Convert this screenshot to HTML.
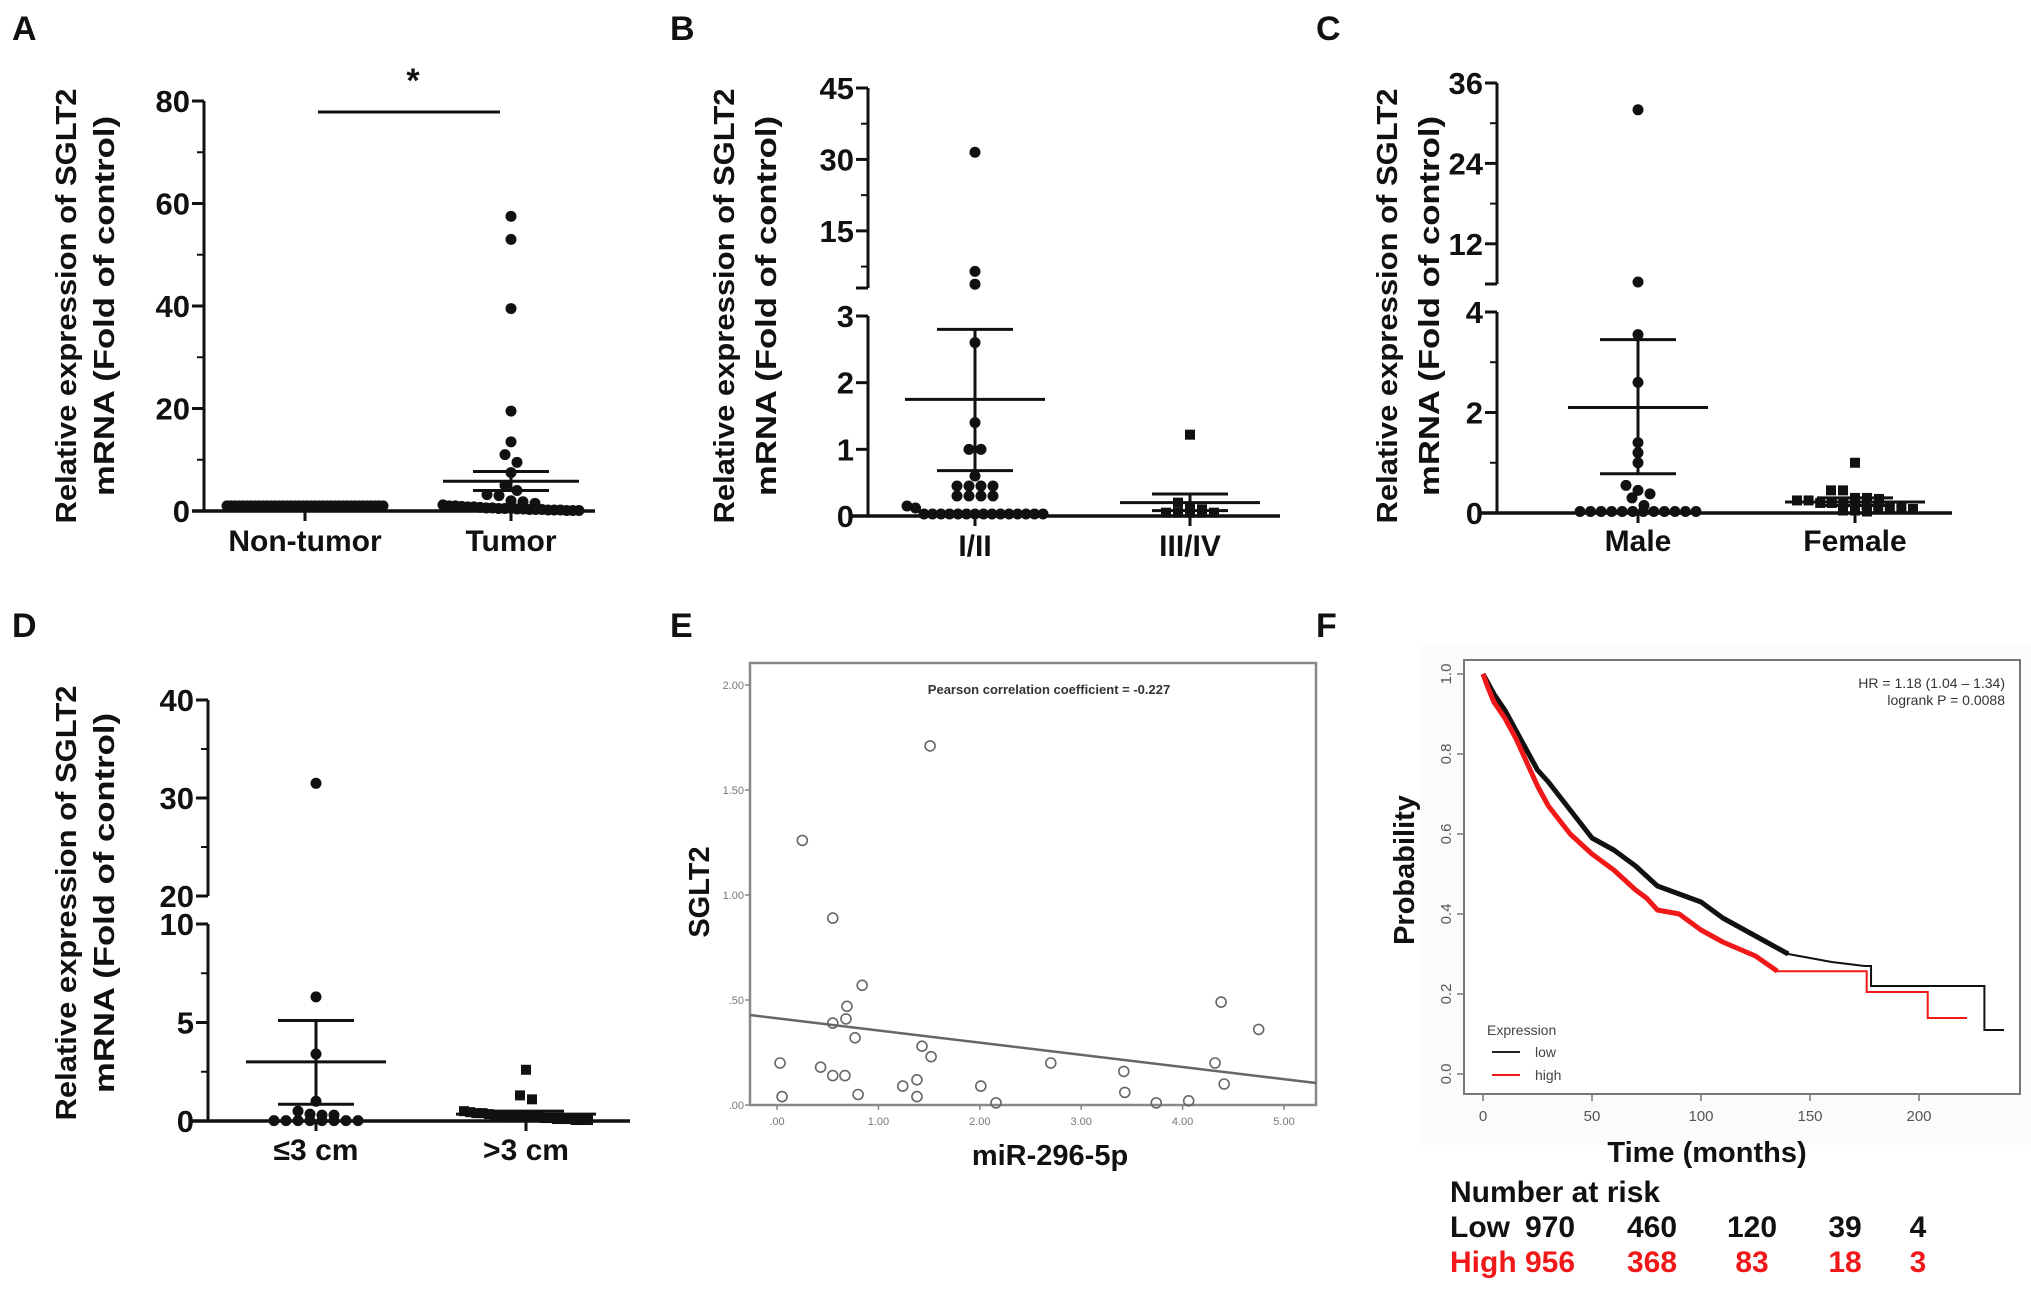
<!DOCTYPE html>
<html><head><meta charset="utf-8">
<style>
html,body{margin:0;padding:0;background:#fff;}
svg{display:block;font-family:"Liberation Sans",Arial,sans-serif;}
</style></head>
<body>
<svg id="fig" width="2031" height="1291" viewBox="0 0 2031 1291" xmlns="http://www.w3.org/2000/svg">
<rect x="0" y="0" width="2031" height="1291" fill="#fff"/>
<g font-weight="bold" font-size="34" fill="#111">
<text x="12" y="40">A</text>
<text x="670" y="40">B</text>
<text x="1316" y="40">C</text>
<text x="12" y="637">D</text>
<text x="670" y="637">E</text>
<text x="1316" y="637">F</text>
</g>
<g id="layer"></g>
</svg>
<script>
// ---------- Panel A data ----------
const aCategories = ["Non-tumor", "Tumor"];
const aNonTumor = [1,1,1,1,1,1,1,1,1,1,1,1,1,1,1,1,1,1,1,1,1,1,1,1,1,1,1,1,1,1,1,1,1,1,1,1,1,1,1,1];
const aTumor = [57.5,53,39.5,19.5,13.5,11,9.5,7.5,5,4,3.2,3,2,1.8,1.5,1.2,1,1,0.9,0.8,0.8,0.7,0.6,0.6,0.5,0.5,0.5,0.4,0.4,0.3,0.3,0.3,0.2,0.2,0.2,0.1,0.1,0.1];
const aStats = [[1,1,1],[5.8,7.7,4.0]];
const aTicks = [0,20,40,60,80];
// ---------- Panel B data ----------
const bCategories = ["I/II", "III/IV"];
const bEarly = [31.5,6.5,3.8,2.6,1.4,1.0,1.0,0.6,0.45,0.45,0.45,0.45,0.3,0.3,0.3,0.3,0.15,0.12,0.03,0.03,0.03,0.03,0.03,0.03,0.03,0.03,0.03,0.03,0.03,0.03,0.03,0.03,0.03];
const bLate = [1.22,0.2,0.12,0.1,0.05,0.05,0.05,0.05,0.05];
const bStats = [[1.75,2.8,0.68],[0.2,0.33,0.08]];
const bTicksUpper = [15,30,45];
const bTicksLower = [0,1,2,3];
// ---------- Panel C data ----------
const cCategories = ["Male", "Female"];
const cMale = [32,6.3,3.55,2.6,1.4,1.2,1.0,0.55,0.45,0.38,0.3,0.15,0.03,0.03,0.03,0.03,0.03,0.03,0.03,0.03,0.03,0.03,0.03,0.03];
const cFemale = [1.0,0.45,0.45,0.3,0.3,0.28,0.25,0.25,0.2,0.2,0.2,0.15,0.15,0.12,0.1,0.1,0.08,0.05,0.05,0.03];
const cStats = [[2.1,3.45,0.78],[0.22,0.3,0.15]];
const cTicksUpper = [12,24,36];
const cTicksLower = [0,2,4];
// ---------- Panel D data ----------
const dCategories = ["\u22643 cm", ">3 cm"];
const dSmall = [31.5,6.3,3.4,1.0,0.5,0.35,0.3,0.3,0.02,0.02,0.02,0.02,0.02,0.02,0.02,0.02];
const dLarge = [2.6,1.3,1.1,0.5,0.45,0.4,0.4,0.35,0.3,0.3,0.3,0.25,0.25,0.2,0.2,0.2,0.15,0.15,0.1,0.1,0.1,0.05,0.05,0.05];
const dStats = [[3.0,5.1,0.85],[0.35,0.5,0.2]];
const dTicksUpper = [20,30,40];
const dTicksLower = [0,5,10];
// ---------- Panel E data ----------
const eMir = [0.25,1.51,0.55,0.84,0.69,0.68,0.55,0.77,1.43,1.52,0.03,0.43,0.55,0.67,0.05,0.80,1.24,1.38,1.38,2.01,2.16,2.70,3.42,3.43,3.74,4.06,4.32,4.38,4.41,4.75];
const eSglt = [1.26,1.71,0.89,0.57,0.47,0.41,0.39,0.32,0.28,0.23,0.20,0.18,0.14,0.14,0.04,0.05,0.09,0.12,0.04,0.09,0.01,0.20,0.16,0.06,0.01,0.02,0.20,0.49,0.10,0.36];
const eFit = [0.413,-0.058];
const eXTicks = [0,1,2,3,4,5];
const eXLabels = [".00","1.00","2.00","3.00","4.00","5.00"];
const eYTicks = [0,0.5,1,1.5,2];
const eYLabels = [".00",".50","1.00","1.50","2.00"];
// ---------- Panel F data ----------
const fLowMonths = [0,2,5,10,15,20,25,30,40,50,60,70,80,90,100,110,120,130,140,150,160,175,178,230,230,239];
const fLowProb =   [1.0,0.98,0.95,0.91,0.86,0.81,0.76,0.73,0.66,0.59,0.56,0.52,0.47,0.45,0.43,0.39,0.36,0.33,0.30,0.29,0.28,0.27,0.22,0.22,0.11,0.11];
const fHighMonths = [0,2,5,10,15,20,25,30,40,50,60,70,75,80,90,100,110,125,135,175,176,204,204,222];
const fHighProb =   [1.0,0.97,0.93,0.89,0.84,0.78,0.72,0.67,0.60,0.55,0.51,0.46,0.44,0.41,0.40,0.36,0.33,0.295,0.257,0.257,0.205,0.205,0.14,0.14];
const fXTicks = [0,50,100,150,200];
const fYTicks = [0,0.2,0.4,0.6,0.8,1.0];
const fRiskLow = ["970","460","120","39","4"];
const fRiskHigh = ["956","368","83","18","3"];

const NS = "http://www.w3.org/2000/svg";
const layer = document.getElementById("layer");
function mk(tag, attrs, parent, text){
  const el = document.createElementNS(NS, tag);
  for (const k in attrs) el.setAttribute(k, attrs[k]);
  if (text !== undefined) el.textContent = text;
  (parent || layer).appendChild(el);
  return el;
}

function yTitle(g, x1, x2, cy){
  const t1 = mk("text",{x:0,y:0,transform:`translate(${x1},${cy}) rotate(-90)`,"text-anchor":"middle","font-size":29,"font-weight":"bold",fill:"#111",textLength:435,lengthAdjust:"spacingAndGlyphs"},g,"Relative expression of SGLT2");
  
  
  const t2 = mk("text",{x:0,y:0,transform:`translate(${x2},${cy}) rotate(-90)`,"text-anchor":"middle","font-size":29,"font-weight":"bold",fill:"#111",textLength:380,lengthAdjust:"spacingAndGlyphs"},g,"mRNA (Fold of control)");
  
  
}

function dotPlot(p){
  const g = mk("g",{});
  
  
  const ys = p.yScale;
  p.segments.forEach(s=>{
    const l = mk("line",{x1:p.axisX,x2:p.axisX,y1:s[0],y2:s[1],stroke:"#111","stroke-width":3},g);
    
    
  });
  p.breakTicks.forEach(by=>{
    mk("line",{x1:p.axisX-12,x2:p.axisX,y1:by,y2:by,stroke:"#111","stroke-width":3},g);
  });
  p.ticks.forEach(v=>{
    const y = ys(v);
    mk("line",{x1:p.axisX-12,x2:p.axisX,y1:y,y2:y,stroke:"#111","stroke-width":3},g);
    const t = mk("text",{x:p.axisX-14,y:y+11,"text-anchor":"end","font-size":31,"font-weight":"bold",fill:"#111"},g,String(v));
    
    
  });
  (p.minor||[]).forEach(v=>{
    const y = ys(v);
    mk("line",{x1:p.axisX-7,x2:p.axisX,y1:y,y2:y,stroke:"#111","stroke-width":2},g);
  });
  const y0 = ys(0);
  const xa = mk("line",{x1:p.xAxis[0],x2:p.xAxis[1],y1:y0,y2:y0,stroke:"#111","stroke-width":3.5},g);
  
  
  p.cats.forEach((c,i)=>{
    const cx = p.catX[i];
    mk("line",{x1:cx,x2:cx,y1:y0,y2:y0+10,stroke:"#111","stroke-width":3},g);
    const t = mk("text",{x:cx,y:p.labelY,"text-anchor":"middle","font-size":30,"font-weight":"bold",fill:"#111"},g,c);
    
    
  });
  p.groups.forEach((vals,gi)=>{
    const cx = p.catX[gi];
    const maxHalf = p.maxHalf[gi];
    const sorted = vals.slice().sort((a,b)=>b-a);
    // bin by pixel y
    const bins = [];
    sorted.forEach(v=>{
      const y = ys(v);
      const b = bins.find(bb=>Math.abs(bb.y - y) < 9);
      if (b) b.items.push(y); else bins.push({y:y, items:[y]});
    });
    bins.forEach(b=>{
      const n = b.items.length;
      const sp = n>1 ? Math.min(12, 2*maxHalf/(n-1)) : 0;
      b.items.forEach((y,k)=>{
        const x = cx + (k - (n-1)/2)*sp;
        let m;
        if (p.square && p.square[gi]) m = mk("rect",{x:x-5,y:y-5,width:10,height:10,fill:"#111"},g);
        else m = mk("circle",{cx:x,cy:y,r:5.5,fill:"#111"},g);
        
        
      });
    });
    const st = p.stats[gi];
    if (p.showStats[gi]){
      const ym = ys(st[0]), yu = ys(st[1]), yl = ys(st[2]);
      const ml = mk("line",{x1:cx-p.meanHalf,x2:cx+p.meanHalf,y1:ym,y2:ym,stroke:"#111","stroke-width":3},g);
      
      
      mk("line",{x1:cx,x2:cx,y1:yu,y2:yl,stroke:"#111","stroke-width":3},g);
      const eu = mk("line",{x1:cx-p.capHalf,x2:cx+p.capHalf,y1:yu,y2:yu,stroke:"#111","stroke-width":3},g);
      
      
      const el = mk("line",{x1:cx-p.capHalf,x2:cx+p.capHalf,y1:yl,y2:yl,stroke:"#111","stroke-width":3},g);
      
      
    }
  });
  yTitle(g, p.titleX[0], p.titleX[1], p.titleY);
  return g;
}

function brokenScale(brk, lo0, loBrk, upBrkVal, upBrkY, upTopVal, upTopY){
  return v => {
    if (v <= brk) return lo0 + (loBrk - lo0) * (v / brk);
    return upBrkY + (upTopY - upBrkY) * (v - upBrkVal) / (upTopVal - upBrkVal);
  };
}

const gA = dotPlot({
  name:"panel-a-dotplot", axisX:204, segments:[[101,511]], breakTicks:[],
  yScale: v => 511 - v*(410/80), ticks:aTicks, minor:[10,30,50,70],
  xAxis:[192,595], cats:aCategories, catX:[305,511], labelY:551,
  groups:[aNonTumor,aTumor], stats:aStats, showStats:[false,true], maxHalf:[78,68],
  meanHalf:68, capHalf:38, titleX:[76,114], titleY:306
});
const sig = mk("line",{x1:318,x2:500,y1:112,y2:112,stroke:"#111","stroke-width":3},gA);


const star = mk("text",{x:413,y:92,"text-anchor":"middle","font-size":34,"font-weight":"bold",fill:"#111"},gA,"*");



dotPlot({
  name:"panel-b-dotplot", axisX:868, segments:[[88,288],[316,516]], breakTicks:[288],
  yScale: brokenScale(3,516,316,3,288,45,88), ticks:[...bTicksLower,...bTicksUpper], minor:[37.5,22.5,7.5],
  xAxis:[851,1280], cats:bCategories, catX:[975,1190], labelY:556,
  groups:[bEarly,bLate], stats:bStats, showStats:[true,true], square:[false,true], maxHalf:[68,40],
  meanHalf:70, capHalf:38, titleX:[734,776], titleY:306
});

dotPlot({
  name:"panel-c-dotplot", axisX:1497, segments:[[83,284],[312,513]], breakTicks:[284],
  yScale: brokenScale(4,513,312,6,284,36,83), ticks:[...cTicksLower,...cTicksUpper], minor:[30,18,1,3],
  xAxis:[1481,1952], cats:cCategories, catX:[1638,1855], labelY:551,
  groups:[cMale,cFemale], stats:cStats, showStats:[true,true], square:[false,true], maxHalf:[58,58],
  meanHalf:70, capHalf:38, titleX:[1397,1439], titleY:306
});

dotPlot({
  name:"panel-d-dotplot", axisX:208, segments:[[700,896],[924,1121]], breakTicks:[],
  yScale: brokenScale(10,1121,924,20,896,40,700), ticks:[...dTicksLower,...dTicksUpper], minor:[35,25,7.5,2.5],
  xAxis:[192,630], cats:dCategories, catX:[316,526], labelY:1160,
  groups:[dSmall,dLarge], stats:dStats, showStats:[true,true], square:[false,true], maxHalf:[55,62],
  meanHalf:70, capHalf:38, titleX:[76,114], titleY:903
});

// Panel E scatter
(function(){
  const g = mk("g",{});
  
  
  const L=750,R=1316,T=663,B=1105;
  const xs = v => 777 + v*(1284-777)/5;
  const ys = v => 1105 - v*(1105-685)/2;
  const box = mk("rect",{x:L,y:T,width:R-L,height:B-T,fill:"none",stroke:"#888","stroke-width":2.5},g);
  
  
  eXTicks.forEach((v,i)=>{
    mk("line",{x1:xs(v),x2:xs(v),y1:B,y2:B+5,stroke:"#888","stroke-width":1.5},g);
    const t = mk("text",{x:xs(v),y:B+20,"text-anchor":"middle","font-size":11,fill:"#777"},g,eXLabels[i]);
    
    
  });
  eYTicks.forEach((v,i)=>{
    mk("line",{x1:L-5,x2:L,y1:ys(v),y2:ys(v),stroke:"#888","stroke-width":1.5},g);
    const t = mk("text",{x:L-6,y:ys(v)+4,"text-anchor":"end","font-size":11,fill:"#777"},g,eYLabels[i]);
    
    
  });
  const x0 = (L-777)/((1284-777)/5), x1 = (R-777)/((1284-777)/5);
  const fit = mk("line",{x1:L,x2:R,y1:ys(eFit[0]+eFit[1]*x0),y2:ys(eFit[0]+eFit[1]*x1),stroke:"#666","stroke-width":2.5},g);
  
  
  eMir.forEach((v,i)=>{
    const c = mk("circle",{cx:xs(v),cy:ys(eSglt[i]),r:5,fill:"none",stroke:"#666","stroke-width":1.6},g);
    
    
  });
  const tt = mk("text",{x:1049,y:694,"text-anchor":"middle","font-size":13,"font-weight":"bold",fill:"#333"},g,"Pearson correlation coefficient = -0.227");
  
  
  const xl = mk("text",{x:1050,y:1165,"text-anchor":"middle","font-size":29,"font-weight":"bold",fill:"#111"},g,"miR-296-5p");
  
  
  const yl = mk("text",{x:0,y:0,transform:"translate(709,892) rotate(-90)","text-anchor":"middle","font-size":29,"font-weight":"bold",fill:"#111"},g,"SGLT2");
  
  
})();

// Panel F Kaplan-Meier
(function(){
  const g = mk("g",{});
  
  
  mk("rect",{x:1420,y:645,width:611,height:500,fill:"#fbfbfb"},g);
  const xs = v => 1483 + v*(1919-1483)/200;
  const Y0 = 1074, Y1 = 674;
  const yv = v => Y0 - v*(Y0-Y1);
  const box = mk("rect",{x:1464,y:660,width:556,height:434,fill:"#fff",stroke:"#777","stroke-width":2},g);
  
  
  fXTicks.forEach(v=>{
    mk("line",{x1:xs(v),x2:xs(v),y1:1094,y2:1101,stroke:"#777","stroke-width":1.5},g);
    const t = mk("text",{x:xs(v),y:1121,"text-anchor":"middle","font-size":15,fill:"#555"},g,String(v));
    
    
  });
  fYTicks.forEach(v=>{
    mk("line",{x1:1457,x2:1464,y1:yv(v),y2:yv(v),stroke:"#777","stroke-width":1.5},g);
    const t = mk("text",{x:0,y:0,transform:`translate(1451,${yv(v)}) rotate(-90)`,"text-anchor":"middle","font-size":15,fill:"#555"},g,v.toFixed(1));
    
    
  });
  // smooth (dense, censored) part then steps for tail
  function kmPath(ms, ps, upto){
    let d = "";
    let i = 0;
    for (; i<ms.length && ms[i]<=upto; i++){
      d += (i?" L":"M") + xs(ms[i]) + "," + yv(ps[i]);
    }
    for (; i<ms.length; i++){
      d += ` L${xs(ms[i])},${yv(ps[i-1])} L${xs(ms[i])},${yv(ps[i])}`;
    }
    return d;
  }
  function densePath(ms, ps, upto){
    let d = "";
    for (let i=0;i<ms.length && ms[i]<=upto;i++) d += (i?" L":"M") + xs(ms[i]) + "," + yv(ps[i]);
    return d;
  }
  const low = mk("path",{d:kmPath(fLowMonths,fLowProb,175),fill:"none",stroke:"#111","stroke-width":2},g);
  
  
  const lowThick = mk("path",{d:densePath(fLowMonths,fLowProb,140),fill:"none",stroke:"#111","stroke-width":5,"stroke-linejoin":"round"},g);
  
  
  const high = mk("path",{d:kmPath(fHighMonths,fHighProb,175),fill:"none",stroke:"#f01818","stroke-width":2},g);
  
  
  const highThick = mk("path",{d:densePath(fHighMonths,fHighProb,135),fill:"none",stroke:"#f01818","stroke-width":5,"stroke-linejoin":"round"},g);
  
  
  const hr1 = mk("text",{x:2005,y:688,"text-anchor":"end","font-size":14,fill:"#333"},g,"HR = 1.18 (1.04 \u2013 1.34)");
  
  
  const hr2 = mk("text",{x:2005,y:705,"text-anchor":"end","font-size":14,fill:"#333"},g,"logrank P = 0.0088");
  
  
  const lg = mk("g",{},g);
  
  
  mk("text",{x:1487,y:1035,"font-size":14,fill:"#444"},lg,"Expression");
  mk("line",{x1:1492,x2:1520,y1:1052,y2:1052,stroke:"#222","stroke-width":2},lg);
  mk("text",{x:1535,y:1057,"font-size":14,fill:"#444"},lg,"low");
  mk("line",{x1:1492,x2:1520,y1:1075,y2:1075,stroke:"#f01818","stroke-width":2},lg);
  mk("text",{x:1535,y:1080,"font-size":14,fill:"#444"},lg,"high");
  const xl = mk("text",{x:1707,y:1162,"text-anchor":"middle","font-size":29,"font-weight":"bold",fill:"#111"},g,"Time (months)");
  
  
  const yl = mk("text",{x:0,y:0,transform:"translate(1414,870) rotate(-90)","text-anchor":"middle","font-size":29,"font-weight":"bold",fill:"#111"},g,"Probability");
  
  
  const nr = mk("text",{x:1450,y:1202,"font-size":30,"font-weight":"bold",fill:"#111"},g,"Number at risk");
  
  
  const lowL = mk("text",{x:1450,y:1237,"font-size":30,"font-weight":"bold",fill:"#111"},g,"Low");
  
  
  const highL = mk("text",{x:1450,y:1272,"font-size":30,"font-weight":"bold",fill:"#f01818"},g,"High");
  
  
  const riskX = [1550,1652,1752,1845,1918];
  fRiskLow.forEach((v,i)=>{
    const t = mk("text",{x:riskX[i],y:1237,"text-anchor":"middle","font-size":30,"font-weight":"bold",fill:"#111"},g,v);
    
    
  });
  fRiskHigh.forEach((v,i)=>{
    const t = mk("text",{x:riskX[i],y:1272,"text-anchor":"middle","font-size":30,"font-weight":"bold",fill:"#f01818"},g,v);
    
    
  });
})();
</script>
</body></html>
